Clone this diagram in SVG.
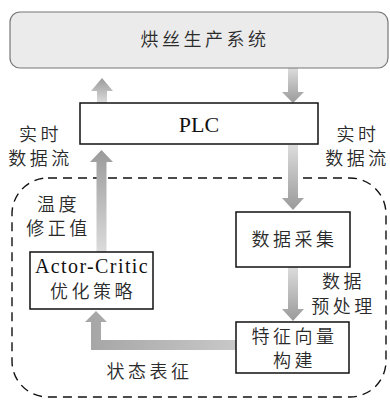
<svg xmlns="http://www.w3.org/2000/svg" width="390" height="402" viewBox="0 0 390 402">
<defs>
<linearGradient id="gUp" x1="0" y1="1" x2="0" y2="0">
<stop offset="0" stop-color="#dcdcdc"/>
<stop offset="1" stop-color="#9a9a9a"/>
</linearGradient>
<linearGradient id="gDown" x1="0" y1="0" x2="0" y2="1">
<stop offset="0" stop-color="#dcdcdc"/>
<stop offset="1" stop-color="#9a9a9a"/>
</linearGradient>
<linearGradient id="gLeft" x1="1" y1="0" x2="0" y2="0">
<stop offset="0" stop-color="#c8c8c8"/>
<stop offset="1" stop-color="#a5a5a5"/>
</linearGradient>
</defs>
<style>
.cn{font-family:"Noto Sans CJK SC","Noto Sans",sans-serif;font-size:18px;font-weight:350;letter-spacing:3.5px;fill:#2a2a2a;text-anchor:middle}
.en{font-family:"Liberation Serif",serif;fill:#111;text-anchor:middle}
.box{fill:#fff;stroke:#111;stroke-width:1.5}
</style>
<rect width="390" height="402" fill="#fff"/>
<g id="region">
<rect x="12" y="178" width="374" height="219" rx="36" ry="36" fill="none" stroke="#111" stroke-width="1.4" stroke-dasharray="9,6"/>
</g>
<g id="connectors">
<polygon points="97,103 107,103 107,91 113,91 102,78 91,91 97,91" fill="url(#gUp)"/>
<polygon points="288,68 298,68 298,92 304,92 293,103 282,92 288,92" fill="url(#gDown)"/>
<polygon points="96.5,253 106.5,253 106.5,162 113,162 101.5,150 90,162 96.5,162" fill="url(#gUp)"/>
<polygon points="288,145 298,145 298,198 304,198 293,210 282,198 288,198" fill="url(#gDown)"/>
<polygon points="288,267 298,267 298,309 304,309 293,321 282,309 288,309" fill="url(#gDown)"/>
<polygon points="236,340 236,350 91,350 91,322 85,322 96,311 107,322 101,322 101,340" fill="url(#gLeft)"/>
</g>
<g id="system">
<rect x="10" y="12" width="378" height="56" rx="10" ry="10" fill="#ebebeb" stroke="#777" stroke-width="1.2"/>
<text class="cn" x="205" y="46">烘丝生产系统</text>
</g>
<g id="plc">
<rect class="box" x="80" y="103" width="238" height="41"/>
<text class="en" x="199" y="132" font-size="22">PLC</text>
</g>
<g id="collect">
<rect class="box" x="236" y="212" width="114" height="55"/>
<text class="cn" x="294.5" y="246">数据采集</text>
</g>
<g id="feature">
<rect class="box" x="236" y="322" width="113" height="51"/>
<text class="cn" x="294.5" y="343">特征向量</text>
<text class="cn" x="294.5" y="367">构建</text>
</g>
<g id="actor">
<rect class="box" x="30" y="252" width="123" height="57"/>
<text class="en" x="92" y="273" font-size="20" letter-spacing="1.4">Actor-Critic</text>
<text class="cn" x="93" y="298">优化策略</text>
</g>
<g id="labels">
<text class="cn" x="40.5" y="140.5">实时</text>
<text class="cn" x="40.5" y="164.5">数据流</text>
<text class="cn" x="358" y="140.5">实时</text>
<text class="cn" x="357.5" y="164.5">数据流</text>
<text class="cn" x="58.5" y="211">温度</text>
<text class="cn" x="58.5" y="235">修正值</text>
<text class="cn" x="343.5" y="288">数据</text>
<text class="cn" x="343.5" y="313">预处理</text>
<text class="cn" x="149.5" y="378">状态表征</text>
</g>
</svg>
